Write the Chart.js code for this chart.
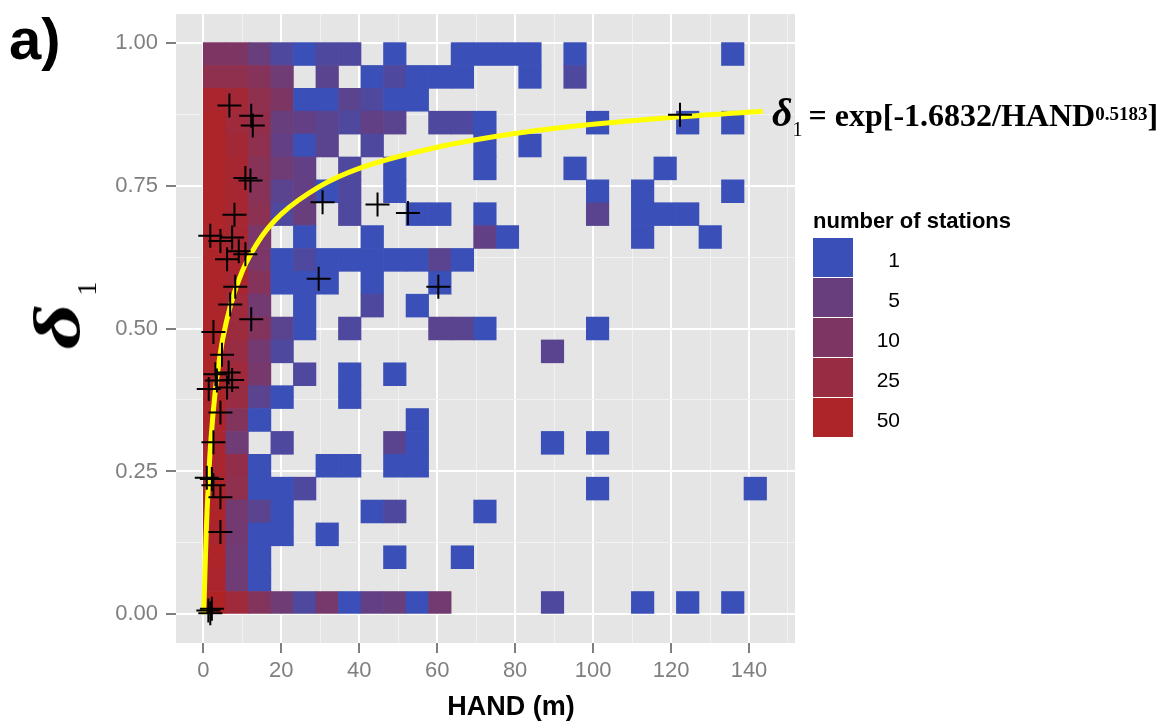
<!DOCTYPE html>
<html>
<head>
<meta charset="utf-8">
<script src="https://cdn.jsdelivr.net/npm/chart.js@4.4.0/dist/chart.umd.min.js"></script>
<style>
  body { margin: 0; background: #fff; }
  #wrap { position: relative; width: 1173px; height: 726px; overflow: hidden; font-family: "Liberation Sans", Arial, sans-serif; }
  #chart { position: absolute; left: 0; top: 0; }
  .tag { position: absolute; left: 9px; top: 10px; font-size: 58px; font-weight: bold; line-height: 1; }
  .ytitle { position: absolute; left: 57px; top: 316px; transform: translate(-50%, -50%) rotate(-90deg);
            font-family: "Liberation Serif", "Times New Roman", serif; font-size: 66px; font-style: italic; font-weight: bold; line-height: 1; white-space: nowrap; }
  .ytitle .d { display: inline-block; transform: scaleX(1.35); margin: 0 8px 0 7px; }
  .ytitle .s { font-size: 28px; font-style: normal; font-weight: normal; position: relative; top: 0.6em; margin-left: 6px; }
  .xtitle { position: absolute; left: 511px; top: 693px; transform: translateX(-50%); font-size: 27px; font-weight: bold; line-height: 1; white-space: nowrap; }
  .formula { position: absolute; left: 772px; top: 93px; font-family: "Liberation Serif", "Times New Roman", serif; font-size: 32px; font-weight: bold; line-height: 1; white-space: nowrap; }
  .formula i { font-size: 40px; }
  .formula .sub { font-size: 20px; font-weight: normal; position: relative; top: 0.5em; margin-right: 6px; }
  .formula sup { font-size: 19px; position: relative; top: -0.3em; vertical-align: baseline; }
  .legend-title { position: absolute; left: 813px; top: 210px; font-size: 22px; font-weight: bold; line-height: 1; white-space: nowrap; }
  .key { position: absolute; left: 813px; width: 40px; height: 39px; }
  .key-label { position: absolute; right: 273px; font-size: 21px; line-height: 1; color: #000; }
</style>
</head>
<body>
<div id="wrap">
  <canvas id="chart" width="1173" height="726"></canvas>
  <div class="tag">a)</div>
  <div class="ytitle"><span class="d">δ</span><span class="s">1</span></div>
  <div class="xtitle">HAND (m)</div>
  <div class="formula"><i>δ</i><span class="sub">1</span>= exp[-1.6832/HAND<sup>0.5183</sup>]</div>
  <div class="legend-title">number of stations</div>
  <div id="legend"></div>
</div>
<script>
// bins: 25 columns of HAND, 25 rows of delta (row 0 = top, 0.96-1.00)
const xBinWidth = 5.78;
const yBinHeight = 0.04;

const stationCounts = [
  [10, 10, 5, 2, 1, 2, 2, 0, 1, 0, 0, 1, 1, 1, 1, 0, 1, 0, 0, 0, 0, 0, 0, 1, 0],
  [18, 18, 13, 6, 0, 3, 0, 1, 2, 1, 1, 1, 0, 0, 1, 0, 2, 0, 0, 0, 0, 0, 0, 0, 0],
  [45, 35, 18, 10, 1, 1, 3, 2, 1, 1, 0, 0, 0, 0, 0, 0, 0, 0, 0, 0, 0, 0, 0, 0, 0],
  [50, 30, 20, 5, 4, 3, 2, 4, 3, 0, 2, 2, 1, 0, 0, 0, 0, 1, 0, 0, 0, 1, 0, 1, 0],
  [50, 35, 18, 4, 1, 3, 0, 2, 0, 0, 0, 0, 1, 0, 1, 0, 0, 0, 0, 0, 0, 0, 0, 0, 0],
  [50, 40, 14, 6, 4, 0, 2, 0, 1, 0, 0, 0, 1, 0, 0, 0, 1, 0, 0, 0, 1, 0, 0, 0, 0],
  [50, 40, 14, 3, 4, 1, 2, 0, 1, 0, 0, 0, 0, 0, 0, 0, 0, 1, 0, 1, 0, 0, 0, 1, 0],
  [50, 40, 16, 2, 5, 0, 2, 0, 0, 1, 1, 0, 1, 0, 0, 0, 0, 3, 0, 1, 1, 1, 0, 0, 0],
  [50, 40, 9, 0, 1, 0, 0, 1, 0, 0, 0, 0, 4, 1, 0, 0, 0, 0, 0, 1, 0, 0, 1, 0, 0],
  [50, 45, 9, 1, 2, 1, 1, 1, 1, 1, 3, 1, 0, 0, 0, 0, 0, 0, 0, 0, 0, 0, 0, 0, 0],
  [50, 40, 13, 1, 1, 1, 0, 1, 0, 0, 1, 0, 0, 0, 0, 0, 0, 0, 0, 0, 0, 0, 0, 0, 0],
  [50, 30, 7, 0, 1, 0, 0, 2, 0, 1, 0, 0, 0, 0, 0, 0, 0, 0, 0, 0, 0, 0, 0, 0, 0],
  [50, 28, 12, 3, 1, 0, 2, 0, 0, 0, 3, 3, 1, 0, 0, 0, 0, 1, 0, 0, 0, 0, 0, 0, 0],
  [50, 25, 7, 2, 0, 0, 0, 0, 0, 0, 0, 0, 0, 0, 0, 3, 0, 0, 0, 0, 0, 0, 0, 0, 0],
  [50, 30, 8, 0, 2, 0, 1, 0, 1, 0, 0, 0, 0, 0, 0, 0, 0, 0, 0, 0, 0, 0, 0, 0, 0],
  [50, 25, 3, 1, 0, 0, 1, 0, 0, 0, 0, 0, 0, 0, 0, 0, 0, 0, 0, 0, 0, 0, 0, 0, 0],
  [50, 12, 1, 0, 0, 0, 0, 0, 0, 1, 0, 0, 0, 0, 0, 0, 0, 0, 0, 0, 0, 0, 0, 0, 0],
  [45, 6, 0, 2, 0, 0, 0, 0, 3, 1, 0, 0, 0, 0, 0, 1, 0, 1, 0, 0, 0, 0, 0, 0, 0],
  [45, 20, 1, 0, 0, 1, 1, 0, 1, 1, 0, 0, 0, 0, 0, 0, 0, 0, 0, 0, 0, 0, 0, 0, 0],
  [50, 18, 1, 1, 2, 0, 0, 0, 0, 0, 0, 0, 0, 0, 0, 0, 0, 1, 0, 0, 0, 0, 0, 0, 1],
  [50, 7, 3, 1, 0, 0, 0, 1, 2, 0, 0, 0, 1, 0, 0, 0, 0, 0, 0, 0, 0, 0, 0, 0, 0],
  [45, 7, 1, 1, 0, 1, 0, 0, 0, 0, 0, 0, 0, 0, 0, 0, 0, 0, 0, 0, 0, 0, 0, 0, 0],
  [50, 6, 1, 0, 0, 0, 0, 0, 1, 0, 0, 1, 0, 0, 0, 0, 0, 0, 0, 0, 0, 0, 0, 0, 0],
  [45, 6, 1, 0, 0, 0, 0, 0, 0, 0, 0, 0, 0, 0, 0, 0, 0, 0, 0, 0, 0, 0, 0, 0, 0],
  [55, 30, 12, 6, 2, 8, 1, 4, 5, 1, 7, 0, 0, 0, 0, 2, 0, 0, 0, 1, 0, 1, 0, 1, 0]
];

// stations used for the fit (black crosses)
const crossHand  = [6.7, 12.3, 12.7, 10.8, 12.1, 8.0, 30.6, 44.7, 52.5, 122.3, 1.8, 4.4, 7.4, 9.1, 10.8, 6.1, 8.2, 6.9, 12.3, 2.6,
                    4.8, 3.1, 6.5, 7.4, 3.5, 1.4, 6.1, 4.4, 29.6, 60.3, 2.6, 0.9, 2.2, 2.6, 4.4, 4.4, 2.2, 1.8, 1.3];
const crossDelta = [0.890, 0.872, 0.855, 0.763, 0.759, 0.699, 0.721, 0.717, 0.702, 0.874, 0.662, 0.653, 0.659, 0.635, 0.630, 0.621, 0.573, 0.542, 0.516, 0.494,
                    0.454, 0.420, 0.423, 0.410, 0.409, 0.394, 0.397, 0.353, 0.587, 0.573, 0.301, 0.239, 0.237, 0.226, 0.205, 0.144, 0.010, 0.002, 0.007];

// fitted curve
const curveHand  = [0.05, 0.1, 0.2, 0.35, 0.5, 0.75, 1, 1.5, 2, 3, 4, 5, 7, 10, 15, 20, 30, 40, 60, 80, 100, 120, 143.5];
const curveDelta = [0.0004, 0.004, 0.021, 0.055, 0.090, 0.142, 0.186, 0.256, 0.309, 0.386, 0.440, 0.482, 0.541, 0.600, 0.661, 0.700, 0.749, 0.780, 0.817, 0.841, 0.857, 0.869, 0.880];

const xMajorTicks = [0, 20, 40, 60, 80, 100, 120, 140];
const xMinorTicks = [10, 30, 50, 70, 90, 110, 130, 150];
const yMajorTicks = [0, 0.25, 0.5, 0.75, 1];
const yTickLabels = ['0.00', '0.25', '0.50', '0.75', '1.00'];
const yMinorTicks = [0.125, 0.375, 0.625, 0.875];
const legendBreaks = [1, 5, 10, 25, 50];

// log colour scale blue -> red
const lowColor = [58, 80, 184];
const highColor = [178, 34, 34];
const maxCount = 60;
function countColor(n) {
  const t = Math.min(1, Math.log(n) / Math.log(maxCount));
  const c = lowColor.map((v, i) => Math.round(v + (highColor[i] - v) * t));
  return 'rgb(' + c.join(',') + ')';
}

const isIn = (arr, v) => arr.some(a => Math.abs(a - v) < 1e-9);

const cells = [];
const cellColors = [];
stationCounts.forEach((row, r) => {
  const top = 1 - r * yBinHeight;
  row.forEach((n, c) => {
    if (!n) return;
    cells.push({ x: (c + 0.5) * xBinWidth, y: [top - yBinHeight, top] });
    cellColors.push(countColor(n));
  });
});

// legend
const legend = document.getElementById('legend');
legendBreaks.forEach((b, i) => {
  const key = document.createElement('div');
  key.className = 'key';
  key.style.top = (238 + i * 40) + 'px';
  key.style.background = countColor(b);
  legend.appendChild(key);
  const lab = document.createElement('div');
  lab.className = 'key-label';
  lab.style.top = (238 + i * 40 + 11) + 'px';
  lab.textContent = b;
  legend.appendChild(lab);
});

const panelBg = {
  id: 'panelBg',
  beforeDraw(chart) {
    const a = chart.chartArea;
    const ctx = chart.ctx;
    ctx.save();
    ctx.fillStyle = '#E5E5E5';
    ctx.fillRect(a.left, a.top, a.right - a.left, a.bottom - a.top);
    ctx.restore();
  }
};

const tickFont = { family: '"Liberation Sans", Arial, sans-serif', size: 22 };

new Chart(document.getElementById('chart'), {
  type: 'bar',
  data: {
    datasets: [
      {
        type: 'scatter',
        data: crossHand.map((h, i) => ({ x: h, y: crossDelta[i] })),
        pointStyle: 'cross',
        pointRadius: 12,
        borderColor: '#000',
        borderWidth: 2,
        order: 0
      },
      {
        type: 'line',
        data: curveHand.map((h, i) => ({ x: h, y: curveDelta[i] })),
        borderColor: '#FFFF00',
        borderWidth: 5,
        pointRadius: 0,
        cubicInterpolationMode: 'monotone',
        fill: false,
        order: 1
      },
      {
        type: 'bar',
        data: cells,
        backgroundColor: cellColors,
        borderWidth: 0,
        borderSkipped: false,
        barPercentage: 1,
        categoryPercentage: 1,
        grouped: false,
        order: 2
      }
    ]
  },
  options: {
    responsive: false,
    animation: false,
    layout: { padding: { top: 12, right: 378, left: 0, bottom: 0 } },
    plugins: { legend: { display: false }, tooltip: { enabled: false } },
    scales: {
      x: {
        type: 'linear',
        min: -7,
        max: 151.8,
        offset: false,
        afterFit: s => { s.height = 83; s.paddingLeft = 0; s.paddingRight = 0; },
        afterBuildTicks: s => {
          s.ticks = xMajorTicks.concat(xMinorTicks).sort((a, b) => a - b).map(v => ({ value: v }));
        },
        ticks: {
          autoSkip: false,
          maxRotation: 0,
          padding: 5,
          color: '#7F7F7F',
          font: tickFont,
          callback: v => isIn(xMajorTicks, v) ? String(v) : ''
        },
        grid: {
          offset: false,
          color: c => isIn(xMajorTicks, c.tick.value) ? '#FFFFFF' : '#F2F2F2',
          lineWidth: c => isIn(xMajorTicks, c.tick.value) ? 2 : 1,
          tickLength: 10,
          tickWidth: 2,
          tickColor: c => isIn(xMajorTicks, c.tick.value) ? '#7F7F7F' : 'rgba(0,0,0,0)'
        },
        border: { display: false }
      },
      y: {
        type: 'linear',
        min: -0.05,
        max: 1.05,
        afterFit: s => { s.width = 176; s.paddingTop = 0; s.paddingBottom = 0; },
        afterBuildTicks: s => {
          s.ticks = yMajorTicks.concat(yMinorTicks).sort((a, b) => a - b).map(v => ({ value: v }));
        },
        ticks: {
          autoSkip: false,
          padding: 8,
          color: '#7F7F7F',
          font: tickFont,
          callback: v => {
            const i = yMajorTicks.findIndex(m => Math.abs(m - v) < 1e-9);
            return i >= 0 ? yTickLabels[i] : '';
          }
        },
        grid: {
          color: c => isIn(yMajorTicks, c.tick.value) ? '#FFFFFF' : '#F2F2F2',
          lineWidth: c => isIn(yMajorTicks, c.tick.value) ? 2 : 1,
          tickLength: 10,
          tickWidth: 2,
          tickColor: c => isIn(yMajorTicks, c.tick.value) ? '#7F7F7F' : 'rgba(0,0,0,0)'
        },
        border: { display: false }
      }
    }
  },
  plugins: [panelBg]
});
</script>
</body>
</html>
